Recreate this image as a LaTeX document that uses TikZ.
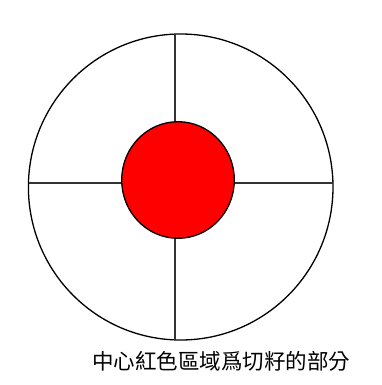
\documentclass[tikz,border=0pt]{standalone}
\usepackage{fontspec}
\newfontfamily\cjk{Noto Sans CJK TC}
\usetikzlibrary{positioning}
\tikzset{
  contorno/.style={draw=black, line width=1.3pt},
  eje/.style={draw=black!80, line width=2pt},
  semilla/.style={fill=red, draw=black, line width=1.3pt},
  rotulo/.style={anchor=west, inner sep=0pt, font=\cjk\fontsize{21.5}{24}\selectfont}
}

\begin{document}
\begin{tikzpicture}[x=1pt,y=-1pt]
    \useasboundingbox (0,0) rectangle (382,385);

    % Contorno exterior
    \draw[contorno] (180.7,187) ellipse [x radius=152.3, y radius=153];

    % Ejes (vertical y horizontal)
    \coordinate (arriba) at (175,34);
    \coordinate (abajo) at (175,340);
    \coordinate (izq) at (28.5,182.5);
    \coordinate (der) at (333,182.5);
    \draw[eje] (arriba) -- (abajo);
    \draw[eje] (izq) -- (der);

    % Zona central roja
    \draw[semilla] (178,180) ellipse [x radius=56.3, y radius=58.3];

    % Texto inferior
    \node[rotulo] (leyenda) at (92,361) {中心紅色區域爲切籽的部分};
\end{tikzpicture}
\end{document}
